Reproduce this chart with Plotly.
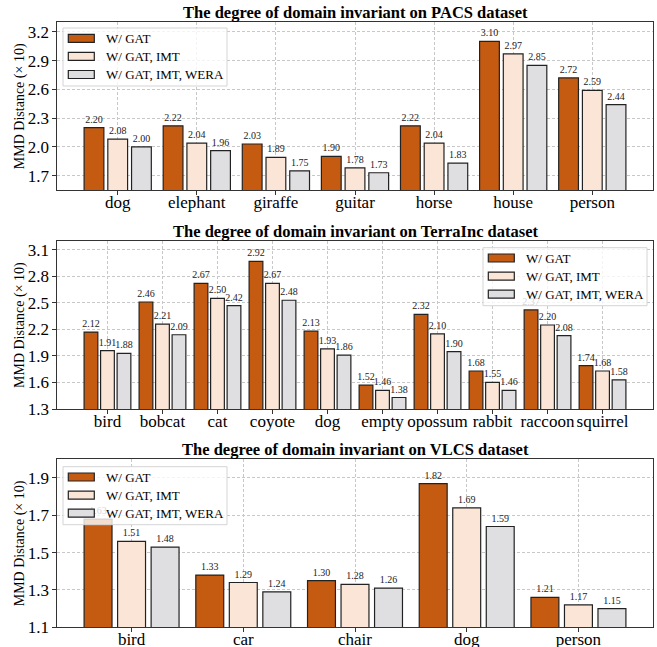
import plotly.graph_objects as go

# ---------------- data ----------------
series_names = ["W/ GAT", "W/ GAT, IMT", "W/ GAT, IMT, WERA"]

pacs_title = "The degree of domain invariant on PACS dataset"
pacs_categories = ["dog", "elephant", "giraffe", "guitar", "horse", "house", "person"]
pacs_gat = [2.20, 2.22, 2.03, 1.90, 2.22, 3.10, 2.72]
pacs_imt = [2.08, 2.04, 1.89, 1.78, 2.04, 2.97, 2.59]
pacs_wera = [2.00, 1.96, 1.75, 1.73, 1.83, 2.85, 2.44]
pacs_bar_shift = 0.0
pacs_ticks = [1.7, 2.0, 2.3, 2.6, 2.9, 3.2]

terra_title = "The degree of domain invariant on TerraInc dataset"
terra_categories = ["bird", "bobcat", "cat", "coyote", "dog", "empty",
                    "opossum", "rabbit", "raccoon", "squirrel"]
terra_gat = [2.12, 2.46, 2.67, 2.92, 2.13, 1.52, 2.32, 1.68, 2.37, 1.74]
terra_imt = [1.91, 2.21, 2.50, 2.67, 1.93, 1.46, 2.10, 1.55, 2.20, 1.68]
terra_wera = [1.88, 2.09, 2.42, 2.48, 1.86, 1.38, 1.90, 1.46, 2.08, 1.58]
terra_bar_shift = 0.05
terra_ticks = [1.3, 1.6, 1.9, 2.2, 2.5, 2.8, 3.1]

vlcs_title = "The degree of domain invariant on VLCS dataset"
vlcs_categories = ["bird", "car", "chair", "dog", "person"]
vlcs_gat = [1.63, 1.33, 1.30, 1.82, 1.21]
vlcs_imt = [1.51, 1.29, 1.28, 1.69, 1.17]
vlcs_wera = [1.48, 1.24, 1.26, 1.59, 1.15]
vlcs_bar_shift = 0.05
vlcs_ticks = [1.1, 1.3, 1.5, 1.7, 1.9]

y_title = "MMD Distance (× 10)"

# ---------------- styles ----------------
W, H = 657, 647
FONT = "Liberation Serif, Times New Roman, serif"
colors = ["#C55A11", "#FBE5D6", "#DFDFE2"]
edge = "#222222"

panels = [
    dict(title=pacs_title, cats=pacs_categories, vals=[pacs_gat, pacs_imt, pacs_wera],
         shift=pacs_bar_shift, ticks=pacs_ticks, yrange=[1.55, 3.30],
         top=22.3, bottom=190.0, legend_box=(63, 28)),
    dict(title=terra_title, cats=terra_categories, vals=[terra_gat, terra_imt, terra_wera],
         shift=terra_bar_shift, ticks=terra_ticks, yrange=[1.3, 3.2],
         top=241.0, bottom=409.0, legend_box=(483, 247.7)),
    dict(title=vlcs_title, cats=vlcs_categories, vals=[vlcs_gat, vlcs_imt, vlcs_wera],
         shift=vlcs_bar_shift, ticks=vlcs_ticks, yrange=[1.1, 2.0],
         top=459.3, bottom=627.3, legend_box=(63, 466.7)),
]

x_left, x_right = 57.0, 653.0
xdom = [x_left / W, x_right / W]


def px(x):
    return x / W


def py(y):
    return 1 - y / H


fig = go.Figure()
annotations = []
shapes = []
layout = dict(
    width=W, height=H, autosize=False,
    margin=dict(l=0, r=0, t=0, b=0, autoexpand=False),
    paper_bgcolor="white", plot_bgcolor="white",
    barmode="group", bargap=0.1, bargroupgap=1 / 6,
    font=dict(family=FONT, color="black"),
    showlegend=False,
)

for i, p in enumerate(panels):
    n = i + 1
    xa = "x" if n == 1 else f"x{n}"
    ya = "y" if n == 1 else f"y{n}"
    for s in range(3):
        vals = p["vals"][s]
        fig.add_trace(go.Bar(
            x=p["cats"], y=[v + p["shift"] for v in vals],
            name=series_names[s],
            marker=dict(color=colors[s], line=dict(color=edge, width=1.2)),
            text=[f"{v:.2f}" for v in vals],
            textposition="outside", constraintext="none", cliponaxis=False,
            textfont=dict(family=FONT, size=10, color="#222"),
            xaxis=xa, yaxis=ya,
        ))
    ncat = len(p["cats"])
    ydom = [py(p["bottom"]), py(p["top"])]
    axis_common = dict(
        showline=True, mirror=True, linecolor="#333", linewidth=1.3,
        ticks="outside", ticklen=3.5, tickwidth=1, tickcolor="#333",
        showgrid=True, gridcolor="#c8c8c8", gridwidth=0.8, griddash="3px,2px",
        zeroline=False, tickfont=dict(family=FONT, size=17, color="black"),
        automargin=False,
    )
    layout["xaxis" if n == 1 else f"xaxis{n}"] = dict(
        axis_common, type="category", domain=xdom, anchor=ya, tickangle=0,
        ticklabelstandoff=-7,
        range=[-0.425 - 0.05 * (ncat - 0.15), ncat - 1 + 0.425 + 0.05 * (ncat - 0.15)],
    )
    layout["yaxis" if n == 1 else f"yaxis{n}"] = dict(
        axis_common, domain=ydom, anchor=xa, range=p["yrange"],
        tickvals=p["ticks"], tickformat=".1f",
    )
    # title
    annotations.append(dict(
        text=f"<b>{p['title']}</b>", xref="paper", yref="paper",
        x=px((x_left + x_right) / 2), y=py(p["top"] - 9.5),
        xanchor="center", yanchor="middle", showarrow=False,
        font=dict(family=FONT, size=16.5, color="black"),
    ))
    # y axis title
    annotations.append(dict(
        text=y_title, xref="paper", yref="paper", textangle=-90,
        x=px(20), y=py((p["top"] + p["bottom"]) / 2),
        xanchor="center", yanchor="middle", showarrow=False,
        font=dict(family=FONT, size=14, color="black"),
    ))
    # legend (box, swatches, labels)
    bx, by = p["legend_box"]
    shapes.append(dict(
        type="rect", xref="paper", yref="paper", layer="above",
        x0=px(bx), x1=px(bx + 164), y0=py(by + 58), y1=py(by),
        fillcolor="rgba(255,255,255,0.8)", line=dict(color="#d4d4d4", width=1),
    ))
    for s in range(3):
        cy = by + 10.3 + 18.1 * s
        shapes.append(dict(
            type="rect", xref="paper", yref="paper", layer="above",
            x0=px(bx + 5.3), x1=px(bx + 31.3), y0=py(cy + 4), y1=py(cy - 4),
            fillcolor=colors[s], line=dict(color=edge, width=1.2),
        ))
        annotations.append(dict(
            text=series_names[s], xref="paper", yref="paper",
            x=px(bx + 41), y=py(cy), xanchor="left", yanchor="middle",
            showarrow=False, font=dict(family=FONT, size=13, color="black"),
        ))

layout["annotations"] = annotations
layout["shapes"] = shapes
fig.update_layout(**layout)
fig.write_html(
    "out.html",
    config={"displayModeBar": False, "responsive": False},
    post_script="document.body.style.margin='0';document.body.style.padding='0';",
)
